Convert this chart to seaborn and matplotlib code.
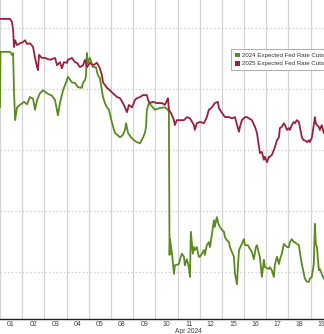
import numpy as np
import pandas as pd
import matplotlib
matplotlib.use("Agg")
import matplotlib.pyplot as plt
import matplotlib.patches as mpatches
import seaborn as sns

# ---- data (day index from start of Apr 01 session, expected cuts in arbitrary units) ----
day_labels = ["01", "02", "03", "04", "05", "08", "09", "10", "11", "12", "15", "16", "17", "18", "19"]

t_2024 = [0.00, 0.02, 0.45, 0.54, 0.59, 0.63, 0.68, 0.77, 0.90, 1.08, 1.22, 1.35, 1.49, 1.58, 1.67, 1.80,
          1.94, 2.12, 2.34, 2.48, 2.61, 2.70, 2.84, 3.02, 3.06, 3.24, 3.38, 3.51, 3.69, 3.74, 3.83, 3.87,
          3.92, 3.96, 4.05, 4.19, 4.32, 4.41, 4.50, 4.64, 4.73, 4.82, 4.91, 5.05, 5.18, 5.41, 5.54, 5.63,
          5.68, 5.77, 5.90, 6.04, 6.17, 6.31, 6.44, 6.53, 6.58, 6.62, 6.71, 6.89, 6.98, 7.21, 7.43, 7.57,
          7.61, 7.64, 7.66, 7.75, 7.84, 7.88, 8.06, 8.11, 8.20, 8.29, 8.33, 8.42, 8.51, 8.56, 8.60, 8.69,
          8.74, 8.78, 8.87, 8.96, 9.01, 9.10, 9.19, 9.23, 9.32, 9.41, 9.46, 9.55, 9.64, 9.68, 9.77, 9.86,
          9.91, 10.00, 10.09, 10.14, 10.23, 10.32, 10.36, 10.45, 10.54, 10.59, 10.68, 10.72, 10.77, 10.90,
          10.99, 11.04, 11.17, 11.26, 11.35, 11.44, 11.53, 11.58, 11.67, 11.71, 11.80, 11.89, 11.94, 12.12,
          12.16, 12.25, 12.34, 12.39, 12.48, 12.57, 12.61, 12.70, 12.79, 12.84, 12.93, 13.02, 13.06, 13.15,
          13.24, 13.29, 13.38, 13.47, 13.51, 13.60, 13.69, 13.74, 13.83, 13.92, 13.96, 14.05, 14.14, 14.19,
          14.23, 14.28, 14.37, 14.41, 14.50, 14.59]
v_2024 = [3.70, 4.61, 4.61, 4.56, 4.59, 3.98, 3.49, 3.70, 3.74, 3.79, 3.75, 3.87, 3.84, 3.66, 3.82, 3.93,
          3.98, 3.93, 3.89, 3.82, 3.57, 3.77, 3.98, 4.15, 4.20, 4.11, 4.10, 4.03, 4.02, 4.10, 4.15, 4.20,
          4.59, 4.43, 4.51, 4.36, 4.36, 4.23, 4.18, 3.87, 3.77, 3.70, 3.66, 3.44, 3.28, 3.21, 3.25, 3.33,
          3.44, 3.28, 3.21, 3.16, 3.13, 3.11, 3.20, 3.28, 3.38, 3.66, 3.77, 3.70, 3.66, 3.69, 3.70, 3.66,
          3.62, 1.28, 1.54, 1.30, 0.97, 1.11, 1.13, 1.21, 1.30, 1.25, 1.11, 1.21, 1.08, 0.92, 1.66, 1.30,
          1.41, 1.36, 1.41, 1.25, 1.25, 1.30, 1.36, 1.28, 1.44, 1.49, 1.41, 1.62, 1.85, 1.74, 1.90, 1.77,
          1.74, 1.69, 1.66, 1.57, 1.52, 1.49, 1.41, 1.33, 1.25, 0.97, 0.80, 1.08, 1.36, 1.46,
          1.54, 1.44, 1.44, 1.38, 1.33, 1.21, 1.41, 1.44, 1.30, 1.25, 0.92, 1.20, 1.08, 1.05,
          1.08, 1.03, 0.92, 1.13, 1.25, 1.13, 1.20, 1.30, 1.46, 1.44, 1.41, 1.41, 1.49, 1.54,
          1.49, 1.49, 1.46, 1.44, 1.33, 1.13, 0.97, 0.89, 0.84, 0.84, 0.89, 0.92, 1.13, 1.79,
          1.46, 1.41, 1.03, 1.05, 0.97, 0.89]

t_2025 = [0.00, 0.45, 0.54, 0.59, 0.63, 0.68, 0.77, 0.90, 1.04, 1.13, 1.22, 1.35, 1.49, 1.58, 1.67, 1.71,
          1.76, 1.89, 2.03, 2.25, 2.48, 2.57, 2.70, 2.79, 2.88, 3.02, 3.06, 3.24, 3.38, 3.47, 3.60, 3.74,
          3.83, 3.92, 4.05, 4.19, 4.37, 4.50, 4.59, 4.64, 4.82, 4.95, 5.09, 5.27, 5.41, 5.54, 5.63, 5.72,
          5.81, 5.95, 6.08, 6.17, 6.31, 6.44, 6.62, 6.67, 6.76, 6.89, 7.07, 7.30, 7.43, 7.57, 7.61, 7.70,
          7.84, 7.88, 7.97, 8.11, 8.29, 8.42, 8.56, 8.74, 8.78, 8.87, 9.01, 9.19, 9.32, 9.41, 9.55, 9.68,
          9.82, 9.86, 10.00, 10.14, 10.32, 10.45, 10.59, 10.68, 10.77, 10.81, 10.90, 11.04, 11.13, 11.22,
          11.35, 11.49, 11.58, 11.67, 11.71, 11.80, 11.89, 11.94, 12.03, 12.12, 12.16, 12.25, 12.34, 12.39,
          12.48, 12.57, 12.61, 12.70, 12.79, 12.84, 12.93, 13.02, 13.06, 13.15, 13.24, 13.29, 13.38, 13.47,
          13.51, 13.60, 13.69, 13.74, 13.83, 13.92, 13.96, 14.05, 14.14, 14.19, 14.23, 14.28, 14.37, 14.41,
          14.50, 14.59]
v_2025 = [5.15, 5.15, 5.10, 4.97, 4.69, 4.80, 4.72, 4.75, 4.77, 4.80, 4.74, 4.75, 4.69, 4.51, 4.36, 4.31,
          4.56, 4.51, 4.51, 4.48, 4.51, 4.39, 4.44, 4.34, 4.44, 4.43, 4.48, 4.51, 4.44, 4.43, 4.36, 4.39,
          4.48, 4.36, 4.43, 4.39, 4.43, 4.34, 4.23, 4.11, 4.02, 3.98, 3.93, 3.87, 3.85, 3.77, 3.70, 3.62,
          3.74, 3.70, 3.82, 3.85, 3.87, 3.90, 3.90, 3.82, 3.77, 3.79, 3.77, 3.77, 3.74, 3.85, 3.66, 3.61,
          3.49, 3.41, 3.49, 3.49, 3.49, 3.54, 3.52, 3.41, 3.33, 3.44, 3.46, 3.44, 3.54, 3.66, 3.70, 3.77,
          3.79, 3.69, 3.61, 3.54, 3.54, 3.52, 3.54, 3.41, 3.30, 3.38, 3.49, 3.54, 3.54, 3.52,
          3.49, 3.38, 3.28, 3.05, 2.95, 2.97, 2.84, 2.89, 2.80, 2.89, 2.89, 2.92, 3.00, 3.05,
          3.16, 3.21, 3.36, 3.38, 3.44, 3.41, 3.33, 3.36, 3.33, 3.41, 3.46, 3.44, 3.49, 3.46,
          3.38, 3.21, 3.16, 3.16, 3.13, 3.16, 3.13, 3.20, 3.41, 3.54, 3.44, 3.41, 3.38, 3.33,
          3.41, 3.28]

series_names = ["2024 Expected Fed Rate Cuts", "2025 Expected Fed Rate Cuts"]
colors = ["#5b8a1f", "#9c1f3b"]

df = pd.concat([
    pd.DataFrame({"t": t_2024, "v": v_2024, "series": series_names[0]}),
    pd.DataFrame({"t": t_2025, "v": v_2025, "series": series_names[1]}),
], ignore_index=True)

sns.set_style("white")
plt.rcParams["font.family"] = ["Liberation Sans", "DejaVu Sans"]

fig = plt.figure(figsize=(3.24, 3.34), dpi=100)
ax = fig.add_axes([0.0, 15 / 334, 1.0, 319 / 334])

# grids
for d in range(0, 15):
    ax.axvline(d, color="#d4d4d4", lw=0.9, zorder=0)
for g in [1, 2, 3, 4, 5]:
    ax.axhline(g, color="#c8c8c8", lw=0.9, ls=(0, (1, 2)), zorder=0)

sns.lineplot(data=df, x="t", y="v", hue="series", palette=dict(zip(series_names, colors)),
             estimator=None, sort=False, lw=1.3, ax=ax, legend=False)

ax.set_xlim(0, 14.6)
ax.set_ylim(0.23, 5.46)
ax.set_xlabel("")
ax.set_ylabel("")
ax.set_yticks([])
ax.set_xticks([i + 0.5 for i in range(len(day_labels))])
ax.set_xticklabels(day_labels, fontsize=5.0, color="#444444")
ax.tick_params(axis="x", length=0, pad=1.2)
for s in ["top", "right", "left"]:
    ax.spines[s].set_visible(False)
ax.spines["bottom"].set_color("#222222")
ax.spines["bottom"].set_linewidth(1.0)

ax.text(8.5, -0.028, "Apr 2024", transform=ax.get_xaxis_transform(), ha="center", va="top",
        fontsize=4.8, color="#444444")

handles = [mpatches.Patch(facecolor=c, edgecolor="none", label=n) for c, n in zip(colors, series_names)]
leg = ax.legend(handles=handles, loc="upper left", bbox_to_anchor=(231 / 324, 1 - 49 / 319),
                prop={"family": ["Liberation Sans"], "size": 4.4}, frameon=True, fancybox=False,
                handlelength=0.8, handleheight=0.8,
                handletextpad=0.4, borderpad=0.6, labelspacing=0.45, borderaxespad=0)
leg.get_frame().set_edgecolor("#9a9a9a")
leg.get_frame().set_linewidth(0.7)
for txt in leg.get_texts():
    txt.set_color("#333333")

fig.savefig("out.png", dpi=100)
